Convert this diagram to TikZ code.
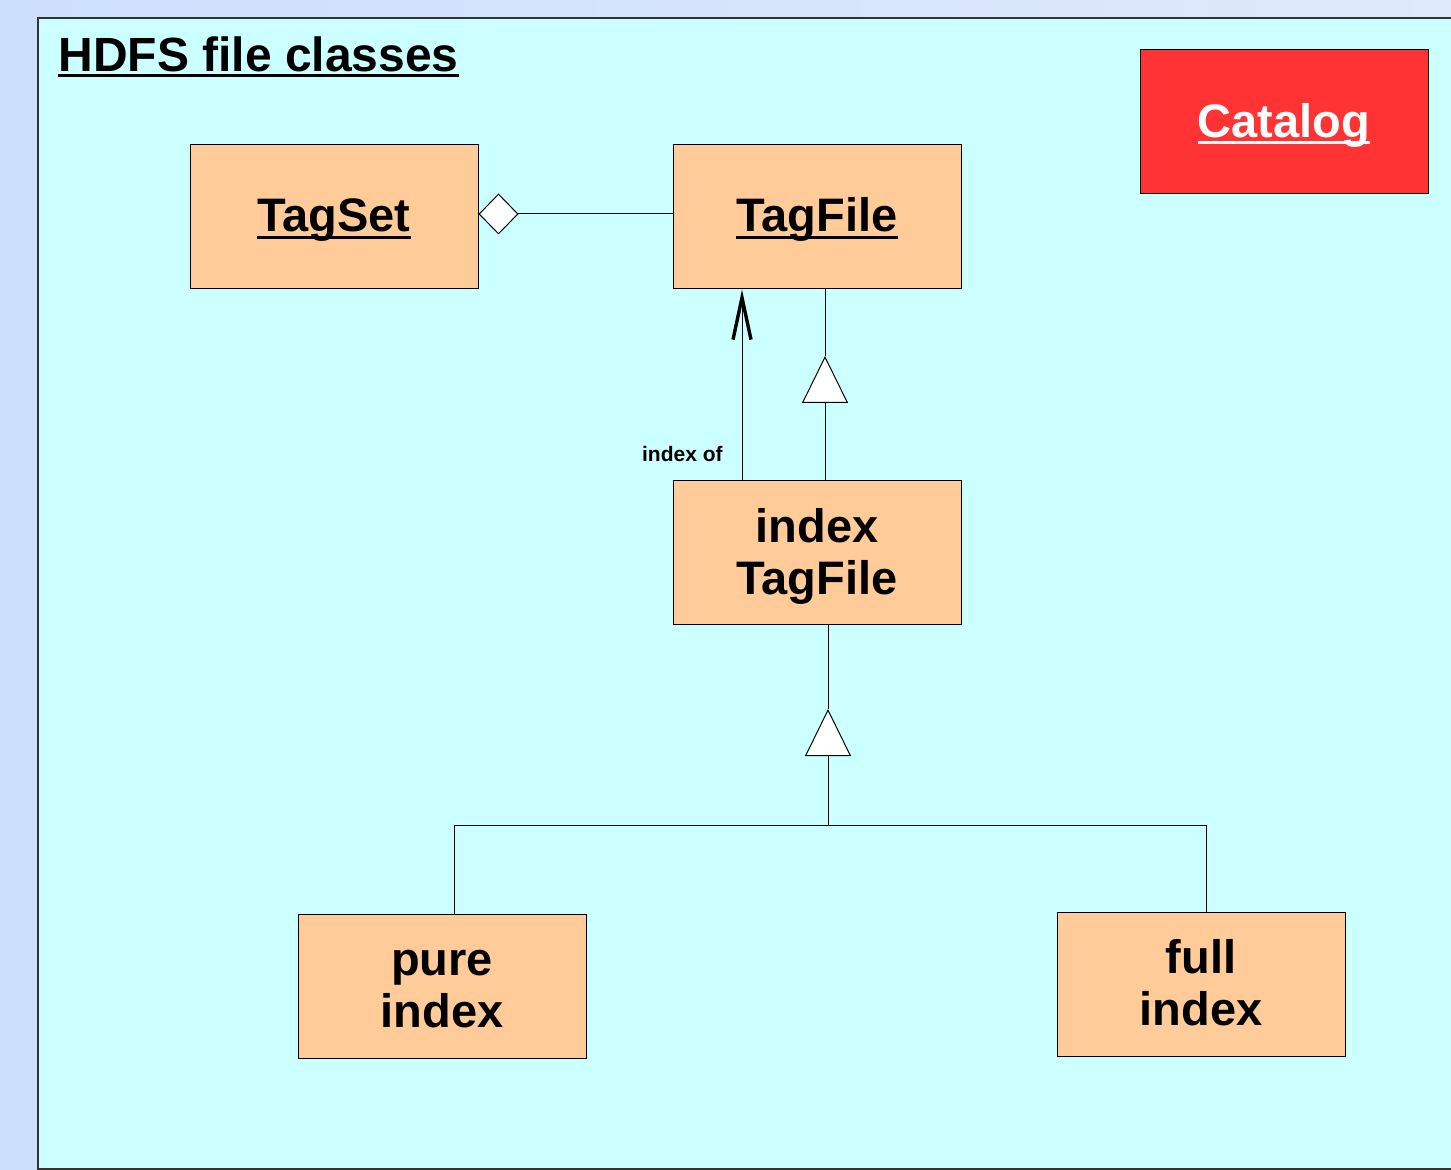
\documentclass[tikz,border=0pt]{standalone}
\usepackage{fontspec}
\setmainfont{Liberation Sans}
\usetikzlibrary{arrows.meta,calc}
\definecolor{bgL}{HTML}{CCDFFD}
\definecolor{bgR}{HTML}{DFEAFA}
\definecolor{panel}{HTML}{CCFFFF}
\definecolor{boxfill}{HTML}{FFCC99}
\definecolor{catred}{HTML}{FF3333}
\newcommand\ulx[2][3.5pt]{\setbox0\hbox{#2}\rlap{\rule[-#1]{\wd0}{1.3pt}}\box0}
\newcommand\twoline[2]{\smash{#1}\rule{0pt}{17pt}\\\smash{#2}\rule[-1.5pt]{0pt}{1.5pt}}
\tikzset{
  classbox/.style={draw=black, line width=0.5pt, fill=boxfill, minimum width=144pt, minimum height=72pt, inner sep=0pt, align=center, font=\bfseries\fontsize{23.5}{26}\selectfont},
  oneline/.style={text height=16pt, text depth=1pt},
  conn/.style={draw=black, line width=0.5pt},
  gentip/.style={-{Triangle[length=23.5pt,width=23pt,fill=white,line width=0.5pt]}},
}
\begin{document}
\begin{tikzpicture}[x=0.5pt,y=-0.5pt]
\useasboundingbox (0,0) rectangle (1451,1170);
\clip (0,0) rectangle (1451,1170);
\shade[left color=bgL, right color=bgR] (0,0) rectangle (1451,1170);
\draw[fill=panel, draw=black!80, line width=0.75pt] (38,18) rectangle (1480,1169);

\node[anchor=base west, inner sep=0pt, font=\bfseries\fontsize{24}{28}\selectfont] (title) at (58,72) {\ulx[2.5pt]{HDFS file classes}};

\node[classbox, oneline] (tagset) at (334,217) {\ulx{TagSet}};
\node[classbox, oneline] (tagfile) at (817,217) {\ulx{TagFile}};
\node[classbox] (itagfile) at (817,553) {\twoline{index}{TagFile}};
\node[classbox] (pure) at (442,986) {\twoline{pure}{index}};
\node[classbox] (full) at (1201,984) {\twoline{full}{index}};
\node[classbox, fill=catred, text=white, text height=17pt, text depth=0.5pt] (catalog) at (1284,121.5) {\ulx[2.9pt]{Catalog}};

% aggregation
\draw[conn, {Diamond[length=20pt,width=20.5pt,fill=white,line width=0.5pt]}-] ([yshift=1.5pt]tagset.east) -- ([yshift=1.5pt]tagfile.west);

% index of
\draw[conn, -{Straight Barb[length=21pt,width=9pt,line width=1.7pt]}] (itagfile.north -| 742,0) -- (tagfile.south -| 742,0);
\node[anchor=base east, inner sep=0pt, font=\bfseries\fontsize{10.5}{12}\selectfont] (idxof) at (723,462) {index of};

% generalization index TagFile -> TagFile
\coordinate (apex1) at (825,356);
\draw[conn, gentip] (itagfile.north -| apex1) -- (apex1);
\draw[conn] (apex1) -- (tagfile.south -| apex1);

% generalization pure/full -> index TagFile
\coordinate (apex2) at (828,709);
\coordinate (jM) at (828,825);
\coordinate (jL) at (454,825);
\coordinate (jR) at (1206,825);
\draw[conn, gentip] (jM) -- (apex2);
\draw[conn] (apex2) -- (itagfile.south -| apex2);
\draw[conn] (pure.north -| jL) -- (jL) -- (jR) -- (full.north -| jR);
\end{tikzpicture}
\end{document}
